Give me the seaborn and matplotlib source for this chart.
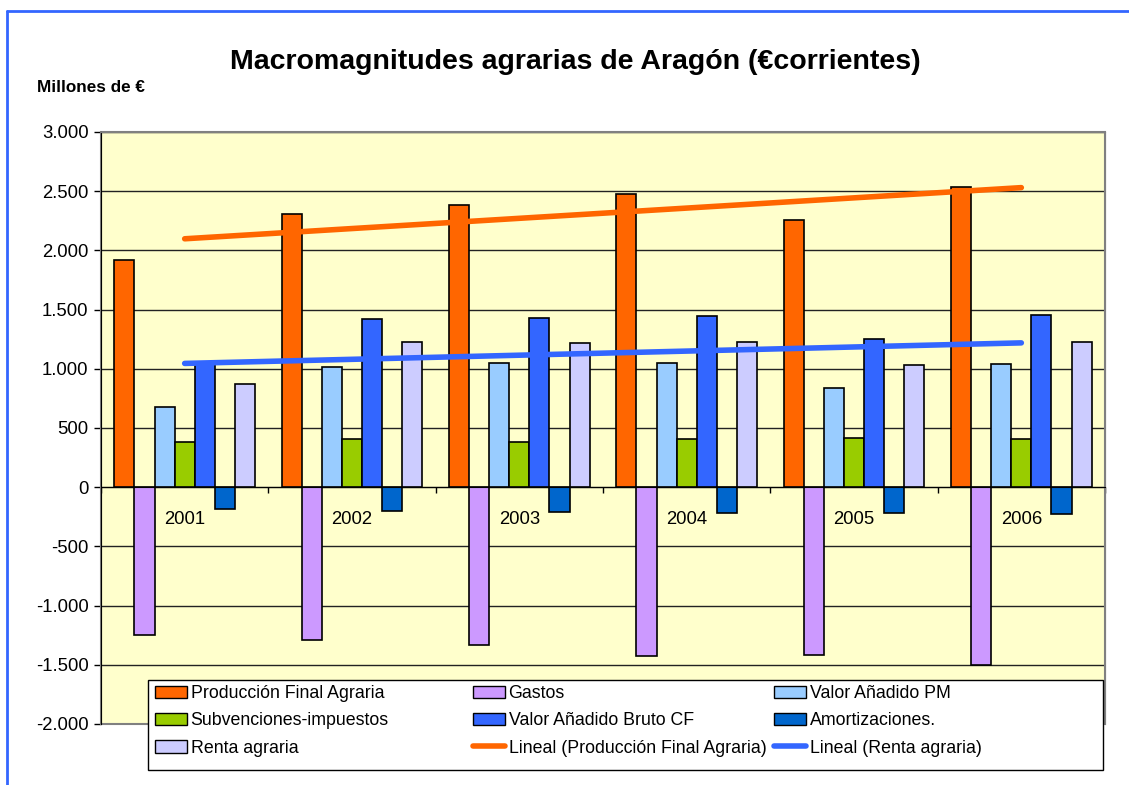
import numpy as np
import pandas as pd
import seaborn as sns
import matplotlib.pyplot as plt
from matplotlib.patches import Patch, Rectangle
from matplotlib.lines import Line2D
from matplotlib.ticker import FuncFormatter

# Data (millones de euros)
years = ["2001", "2002", "2003", "2004", "2005", "2006"]
produccion = [1920, 2310, 2380, 2480, 2260, 2535]
gastos = [-1245, -1290, -1335, -1425, -1420, -1500]
va_pm = [675, 1015, 1045, 1050, 838, 1042]
subvenciones = [382, 407, 380, 404, 419, 410]
vab_cf = [1045, 1421, 1430, 1449, 1253, 1452]
amortizaciones = [-185, -197, -213, -219, -220, -225]
renta = [870, 1224, 1215, 1227, 1030, 1227]

series = ["Producción Final Agraria", "Gastos", "Valor Añadido PM",
          "Subvenciones-impuestos", "Valor Añadido Bruto CF",
          "Amortizaciones.", "Renta agraria"]
values = [produccion, gastos, va_pm, subvenciones, vab_cf, amortizaciones, renta]
colors = ["#FF6600", "#CC99FF", "#99CCFF", "#99CC00", "#3366FF", "#0066CC", "#CCCCFF"]

df = pd.DataFrame([(y, s, v) for s, vals in zip(series, values) for y, v in zip(years, vals)],
                  columns=["year", "serie", "value"])

sns.set_style("white")
plt.rcParams['font.family'] = ['Liberation Sans', 'DejaVu Sans']
plt.rcParams['text.color'] = 'black'
plt.rcParams['xtick.color'] = 'black'
plt.rcParams['ytick.color'] = 'black'
plt.rcParams['axes.labelcolor'] = 'black'

fig = plt.figure(figsize=(11.29, 7.85), dpi=100)
ax = fig.add_axes([101 / 1129, 1 - 724 / 785, 1004 / 1129, 592 / 785])
ax.set_facecolor("#FFFFCC")

# gridlines
for yv in range(-2000, 3001, 500):
    ax.axhline(yv, color="#222222", lw=1, zorder=0.5)

sns.barplot(data=df, x="year", y="value", hue="serie", hue_order=series,
            palette=dict(zip(series, colors)), width=0.84, gap=0, saturation=1,
            edgecolor="black", linewidth=1.2, errorbar=None, legend=False, ax=ax, zorder=2)

# linear trendlines
xpos = np.arange(len(years))
sns.regplot(x=xpos, y=np.array(produccion), scatter=False, ci=None, truncate=True,
            color="#FF6600", line_kws={"linewidth": 4, "zorder": 3}, ax=ax)
sns.regplot(x=xpos, y=np.array(renta), scatter=False, ci=None, truncate=True,
            color="#3366FF", line_kws={"linewidth": 4, "zorder": 3}, ax=ax)

ax.set_xlim(-0.5, 5.5)
ax.set_ylim(-2000, 3000)
ax.set_yticks(range(-2000, 3001, 500))
ax.yaxis.set_major_formatter(FuncFormatter(lambda v, p: f"{int(v):,}".replace(",", ".")))
ax.tick_params(axis="y", left=True, length=5, width=1, color="black", labelsize=13.3,
               labelcolor="black", pad=4)
ax.set_xlabel("")
ax.set_ylabel("")

# category axis at zero
ax.spines["bottom"].set_position(("data", 0))
ax.spines["bottom"].set_color("black")
ax.set_xticks(np.arange(-0.5, 6, 1))
ax.set_xticklabels([])
ax.tick_params(axis="x", bottom=True, length=4, width=1, color="black", direction="out")
ax.spines["left"].set_color("black")
ax.spines["top"].set_color("#808080")
ax.spines["right"].set_color("#808080")
ax.add_patch(Rectangle((0, 0), 1, 1, transform=ax.transAxes, fill=False,
                       edgecolor="#808080", lw=1.5, clip_on=False, zorder=1))
for i, y in enumerate(years):
    ax.annotate(y, xy=(i, 0), xytext=(0, -17), textcoords="offset points",
                ha="center", va="top", fontsize=13.3, color="black")

# titles
fig.text(575 / 1129, 1 - 62 / 785, "Macromagnitudes agrarias de Aragón (€corrientes)",
         ha="center", va="center", fontsize=20.5, fontweight="bold", color="black")
fig.text(37 / 1129, 1 - 88 / 785, "Millones de €", ha="left", va="center",
         fontsize=12.3, fontweight="bold", color="black")

# outer blue border (top and left)
fig.add_artist(Line2D([7 / 1129, 1], [1 - 11 / 785, 1 - 11 / 785], color="#3366FF", lw=2))
fig.add_artist(Line2D([7 / 1129, 7 / 1129], [0, 1 - 11 / 785], color="#3366FF", lw=2))

# legend box and three columns
fig.add_artist(Rectangle((148 / 1129, 1 - 770 / 785), 955 / 1129, 90 / 785,
                         transform=fig.transFigure, facecolor="white",
                         edgecolor="black", lw=1, zorder=4))
patches = [Patch(facecolor=c, edgecolor="black", label=s) for s, c in zip(series, colors)]
lines = [Line2D([], [], color="#FF6600", lw=4, label="Lineal (Producción Final Agraria)"),
         Line2D([], [], color="#3366FF", lw=4, label="Lineal (Renta agraria)")]
cols = [[patches[0], patches[3], patches[6]],
        [patches[1], patches[4], lines[0]],
        [patches[2], patches[5], lines[1]]]
col_x = [155, 473, 774]
for hx, hs in zip(col_x, cols):
    leg = fig.legend(handles=hs, loc="upper left", bbox_to_anchor=(hx / 1129, 1 - 685 / 785),
                     frameon=False, borderpad=0, borderaxespad=0, fontsize=12.8,
                     handlelength=1.8, handletextpad=0.2, labelspacing=0.58)
    for t in leg.get_texts():
        t.set_color("black")
    leg.set_zorder(5)

fig.savefig("out.png", dpi=100)
